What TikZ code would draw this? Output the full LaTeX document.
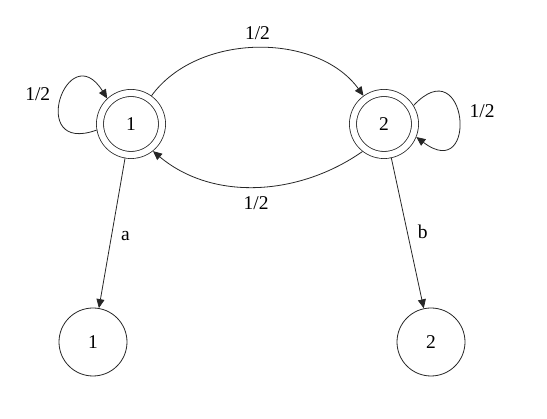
\documentclass[tikz,border=0pt]{standalone}
\usepackage{fontspec}
\setmainfont{Liberation Serif}
\usetikzlibrary{arrows.meta}

\begin{document}
\begin{tikzpicture}[x=1pt, y=1pt,
  acc/.style={circle, draw=black!85, double, double distance=6.2pt, line width=0.8pt,
              minimum size=62pt, inner sep=0pt, outer sep=3.9pt, font=\fontsize{19.5}{21}\selectfont},
  leaf/.style={circle, draw=black!85, line width=0.8pt, minimum size=68pt, inner sep=0pt,
               font=\fontsize{19.5}{21}\selectfont},
  arr/.style={-{Triangle[length=9pt,width=8pt]}, line width=0.8pt, draw=black!85},
  lbl/.style={font=\fontsize{19.5}{21}\selectfont}
]
  \useasboundingbox (0,0) rectangle (547,419);

  \node[acc] (s1) at (131, 295) {1};
  \node[acc] (s2) at (384, 295) {2};
  \node[leaf] (b1) at (93, 77) {1};
  \node[leaf] (b2) at (431, 77) {2};

  % self loops
  \draw[arr] (s1.190) to[out=200, in=122, distance=75pt]
    node[lbl, pos=0.55, left=9pt] {1/2} (s1.133);
  \draw[arr] (s2.32) to[out=47, in=-37, distance=79pt]
    node[lbl, pos=0.45, right=8pt] {1/2} (s2.-22);

  % between the two states
  \draw[arr] (s1) to[out=54, in=126, looseness=0.95]
    node[lbl, midway, above=5pt] {1/2} (s2);
  \draw[arr] (s2.232) to[out=215, in=-40, looseness=0.95]
    node[lbl, midway, below=6pt] {1/2} (s1.-51);

  % outputs
  \draw[arr] (s1) -- (b1) node[lbl, pos=0.52, right=6pt] {a};
  \draw[arr] (s2) -- (b2) node[lbl, pos=0.49, right=7pt] {b};
\end{tikzpicture}
\end{document}
